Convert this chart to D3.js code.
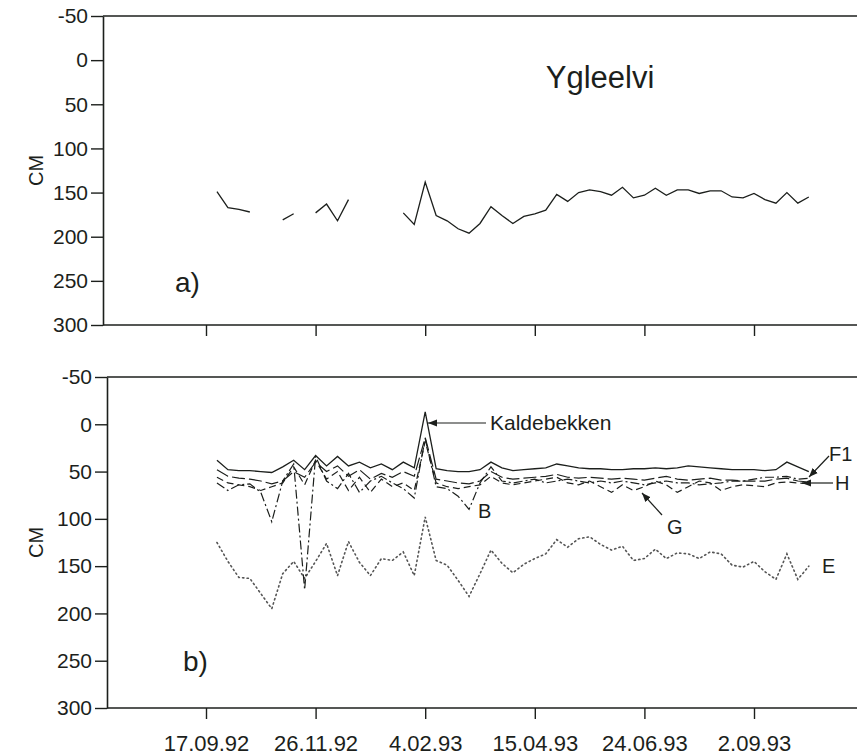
<!DOCTYPE html>
<html>
<head>
<meta charset="utf-8">
<script src="https://cdn.jsdelivr.net/npm/d3@7"></script>
<style>
  body { margin: 0; background: #fff; }
  svg { display: block; font-family: "Liberation Sans", Arial, sans-serif; }
</style>
</head>
<body>
<svg id="chart" width="857" height="756"></svg>
<script>
// weekly sampling dates
const dates = [
  "24.09.92","01.10.92","08.10.92","15.10.92","22.10.92","29.10.92","05.11.92","12.11.92","19.11.92","26.11.92",
  "03.12.92","10.12.92","17.12.92","24.12.92","31.12.92","07.01.93","14.01.93","21.01.93","28.01.93","04.02.93",
  "11.02.93","18.02.93","25.02.93","04.03.93","11.03.93","18.03.93","25.03.93","01.04.93","08.04.93","15.04.93",
  "22.04.93","29.04.93","06.05.93","13.05.93","20.05.93","27.05.93","03.06.93","10.06.93","17.06.93","24.06.93",
  "01.07.93","08.07.93","15.07.93","22.07.93","29.07.93","05.08.93","12.08.93","19.08.93","26.08.93","02.09.93",
  "09.09.93","16.09.93","23.09.93","30.09.93","07.10.93"
];
const tickDates = ["17.09.92", "26.11.92", "04.02.93", "15.04.93", "24.06.93", "02.09.93"];
const yTicks = [-50, 0, 50, 100, 150, 200, 250, 300];

// a) Ygleelvi (null = no reading)
const ygleelvi = [
  149, 167, 169, 172, null, null, 181, 174, null, 173,
  163, 182, 158, null, null, null, null, 173, 186, 138,
  176, 182, 191, 196, 185, 166, 176, 185, 177, 174,
  170, 152, 160, 150, 147, 149, 153, 144, 156, 153,
  145, 153, 147, 147, 151, 148, 148, 155, 156, 151,
  158, 162, 150, 162, 155
];

// b) groundwater wells
const wellF1 = [
  38, 48, 49, 49, 50, 51, 45, 38, 48, 33,
  44, 34, 44, 40, 46, 42, 48, 40, 46, -13,
  47, 49, 50, 50, 48, 40, 46, 49, 48, 47,
  46, 42, 44, 46, 47, 47, 48, 48, 47, 47,
  46, 47, 46, 44, 45, 46, 47, 48, 48, 48,
  49, 48, 40, 45, 50
];
const wellH = [
  48, 55, 57, 58, 60, 63, 60, 50, 56, 40,
  50, 44, 55, 48, 58, 52, 56, 50, 55, 14,
  58, 60, 62, 63, 60, 50, 56, 58, 57, 56,
  55, 53, 56, 57, 56, 57, 58, 57, 58, 59,
  57, 55, 58, 59, 58, 57, 59, 59, 60, 60,
  60, 58, 57, 60, 61
];
const wellG = [
  56, 62, 64, 66, 70, 66, 62, 45, 64, 38,
  58, 50, 70, 56, 72, 58, 66, 62, 70, 18,
  62, 66, 68, 66, 64, 55, 62, 64, 62, 60,
  58, 56, 62, 64, 60, 66, 72, 64, 70, 66,
  60, 64, 72, 66, 60, 62, 70, 66, 64, 65,
  66, 62, 61, 62, 63
];
const wellB = [
  62, 70, 64, 63, 72, 103, 60, 42, 175, 34,
  60, 68, 52, 72, 60, 55, 62, 68, 78, 15,
  66, 68, 76, 90, 62, 45, 60, 62, 60, 58,
  62, 60, 58, 60, 62, 60, 62, 60, 62, 64,
  62, 60, 62, 62, 64, 63, 62, 60, 60, 58,
  56, 56, 55, 58, 57
];
const wellE = [
  125, 145, 162, 163, 179, 195, 158, 145, 163, 145,
  126, 160, 124, 146, 160, 142, 144, 135, 160, 98,
  144, 149, 165, 182, 158, 133, 147, 157, 148, 142,
  137, 122, 130, 121, 119, 127, 133, 129, 144, 142,
  132, 142, 136, 137, 142, 135, 137, 149, 151, 145,
  156, 164, 137, 164, 150
];

const svg = d3.select('#chart');
const ink = '#1c1f1c';
const font = '"Liberation Sans", Arial, sans-serif';
const parse = d3.timeParse('%d.%m.%y');
const fmt = d3.timeFormat('%-d.%m.%y');
const days = dates.map(parse);

const xScale = d3.scaleTime()
  .domain([parse(tickDates[0]), parse(tickDates[tickDates.length - 1])])
  .range([206, 754]);

// arrow head
svg.append('defs').append('marker')
  .attr('id', 'arrow')
  .attr('viewBox', '0 0 10 10')
  .attr('refX', 10).attr('refY', 5)
  .attr('markerWidth', 9).attr('markerHeight', 9)
  .attr('markerUnits', 'userSpaceOnUse')
  .attr('orient', 'auto')
  .append('path')
  .attr('d', 'M0,1 L10,5 L0,9 Z')
  .attr('fill', ink);

function drawPanel(p) {
  const yScale = d3.scaleLinear().domain([-50, 300]).range([p.top, p.bottom]);
  const g = svg.append('g');

  // frame: top and bottom lines run off the right edge
  g.append('line').attr('x1', p.left).attr('x2', 857).attr('y1', p.top).attr('y2', p.top)
    .attr('stroke', ink).attr('stroke-width', 1.6);
  g.append('line').attr('x1', p.left).attr('x2', 857).attr('y1', p.bottom).attr('y2', p.bottom)
    .attr('stroke', ink).attr('stroke-width', 1.6);

  const yAxis = d3.axisLeft(yScale).tickValues(yTicks).tickSize(12).tickSizeOuter(0).tickPadding(3)
    .tickFormat(d => String(d));
  const yg = g.append('g').attr('transform', `translate(${p.left},0)`).call(yAxis);
  yg.select('.domain').attr('stroke', ink).attr('stroke-width', 1.6);
  yg.selectAll('.tick line').attr('stroke', ink).attr('stroke-width', 1.4);
  yg.selectAll('.tick text').attr('font-size', 21).attr('fill', ink).attr('font-family', font);

  const xAxis = d3.axisBottom(xScale).tickValues(tickDates.map(parse)).tickSize(11).tickSizeOuter(0)
    .tickFormat(p.xLabels ? fmt : '').tickPadding(16);
  const xg = g.append('g').attr('transform', `translate(0,${p.bottom})`).call(xAxis);
  xg.select('.domain').remove();
  xg.selectAll('.tick line').attr('stroke', ink).attr('stroke-width', 1.4);
  xg.selectAll('.tick text').attr('font-size', 22).attr('fill', ink).attr('font-family', font);

  // CM label
  g.append('text')
    .attr('transform', `translate(43,${(p.top + p.bottom) / 2}) rotate(-90)`)
    .attr('text-anchor', 'middle')
    .attr('font-size', 20).attr('fill', ink)
    .text('CM');

  g.append('text')
    .attr('x', p.labelX).attr('y', p.labelY)
    .attr('font-size', 28).attr('fill', ink)
    .text(p.label);

  return {g, yScale};
}

const panelA = drawPanel({left: 103, top: 16, bottom: 325, label: 'a)', labelX: 175, labelY: 292, xLabels: false});
const panelB = drawPanel({left: 107, top: 377, bottom: 708, label: 'b)', labelX: 183, labelY: 671, xLabels: true});

// a) Ygleelvi
const lineTop = d3.line()
  .defined(d => d[1] !== null)
  .x(d => xScale(d[0]))
  .y(d => panelA.yScale(d[1]));
panelA.g.append('path')
  .datum(days.map((d, i) => [d, ygleelvi[i]]))
  .attr('d', lineTop)
  .attr('fill', 'none').attr('stroke', ink).attr('stroke-width', 1.3);

panelA.g.append('text')
  .attr('x', 600).attr('y', 88)
  .attr('text-anchor', 'middle')
  .attr('font-size', 31).attr('fill', ink)
  .text('Ygleelvi');

// b) wells
const lineBot = d3.line()
  .x(d => xScale(d[0]))
  .y(d => panelB.yScale(d[1]));

const wells = [
  {name: 'E', values: wellE, dash: '1.3,3.2', width: 1.6, cap: 'round', color: '#555'},
  {name: 'B', values: wellB, dash: '9,3,2,3', width: 1.2, cap: 'butt', color: ink},
  {name: 'G', values: wellG, dash: '7,4', width: 1.2, cap: 'butt', color: ink},
  {name: 'H', values: wellH, dash: '13,4', width: 1.2, cap: 'butt', color: ink},
  {name: 'F1', values: wellF1, dash: null, width: 1.3, cap: 'butt', color: ink}
];

panelB.g.selectAll('.well')
  .data(wells)
  .join('path')
  .attr('class', 'well')
  .attr('d', w => lineBot(days.map((d, i) => [d, w.values[i]])))
  .attr('fill', 'none')
  .attr('stroke', w => w.color)
  .attr('stroke-width', w => w.width)
  .attr('stroke-dasharray', w => w.dash)
  .attr('stroke-linecap', w => w.cap)
  .attr('stroke-linejoin', 'miter');

// labels and arrows
const notes = [
  {text: 'Kaldebekken', x: 490, y: 430, size: 21, ax1: 486, ay1: 423, ax2: 428, ay2: 423},
  {text: 'F1', x: 829, y: 461, size: 20, ax1: 829, ay1: 456, ax2: 809, ay2: 477},
  {text: 'H', x: 835, y: 490, size: 20, ax1: 833, ay1: 483, ax2: 802, ay2: 483},
  {text: 'G', x: 667, y: 534, size: 20, ax1: 662, ay1: 515, ax2: 642, ay2: 493},
  {text: 'B', x: 478, y: 518, size: 20},
  {text: 'E', x: 822, y: 573, size: 20}
];

panelB.g.selectAll('.note-arrow')
  .data(notes.filter(n => n.ax1 !== undefined))
  .join('line')
  .attr('class', 'note-arrow')
  .attr('x1', n => n.ax1).attr('y1', n => n.ay1)
  .attr('x2', n => n.ax2).attr('y2', n => n.ay2)
  .attr('stroke', ink).attr('stroke-width', 1.2)
  .attr('marker-end', 'url(#arrow)');

panelB.g.selectAll('.note')
  .data(notes)
  .join('text')
  .attr('class', 'note')
  .attr('x', n => n.x).attr('y', n => n.y)
  .attr('font-size', n => n.size).attr('fill', ink)
  .text(n => n.text);
</script>
</body>
</html>
